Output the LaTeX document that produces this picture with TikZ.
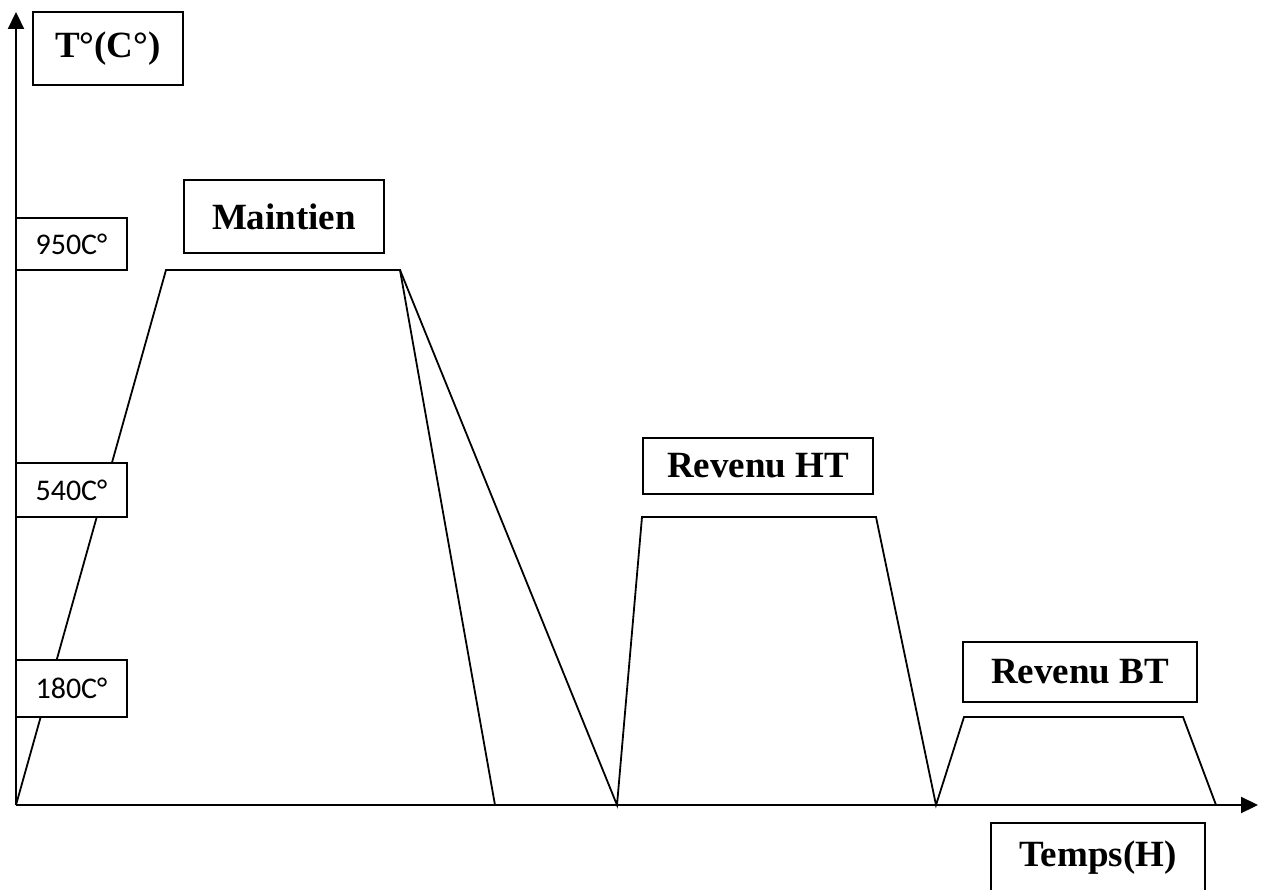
\documentclass[tikz,border=0pt]{standalone}
\usepackage{fontspec}
\setmainfont{Liberation Serif}
\newfontfamily\labfont{Carlito}
\usetikzlibrary{arrows.meta}
\begin{document}
\begin{tikzpicture}[x=1pt,y=-1pt,
  line width=2pt,
  bigbox/.style={draw, fill=white, line width=2pt, inner sep=0pt, font=\fontsize{37}{40}\selectfont\bfseries},
  tempbox/.style={draw, fill=white, line width=1.6pt, inner sep=0pt, minimum width=111pt, font=\labfont\fontsize{30}{32}\selectfont},
  curve/.style={line width=1.8pt, line join=miter},
  axis/.style={line width=2.2pt, -{Triangle[length=17pt,width=16pt]}}]
\useasboundingbox (0,0) rectangle (1263,890);
% axes
\coordinate (O) at (16,805);
\coordinate (ytop) at (16,12);
\coordinate (xend) at (1258,805);
\draw[axis] (O) -- (ytop);
\draw[axis] (O) -- (xend);
% curve points
\coordinate (a1) at (166,270);
\coordinate (a2) at (400,270);
\coordinate (a3) at (495,805);
\coordinate (b0) at (617,805);
\coordinate (b1) at (642,517);
\coordinate (b2) at (876,517);
\coordinate (b3) at (936,805);
\coordinate (c1) at (964,717);
\coordinate (c2) at (1183,717);
\coordinate (c3) at (1216,805);
\draw[curve] (O) -- (a1) -- (a2) -- (a3);
\draw[curve] (a2) -- (b0) -- (b1) -- (b2) -- (b3) -- (c1) -- (c2) -- (c3);
% label boxes
\node[bigbox, minimum width=150pt, minimum height=73pt] (tc) at (108,48.5) {\raisebox{-3pt}{T\textdegree(C\textdegree)}};
\node[tempbox, minimum height=52pt] (t950) at (71.5,244) {950C\textdegree};
\node[tempbox, minimum height=54pt] (t540) at (71.5,490) {540C\textdegree};
\node[tempbox, minimum height=57pt] (t180) at (71.5,688.5) {180C\textdegree};
\node[bigbox, minimum width=200pt, minimum height=73pt] (maint) at (284,216.5) {Maintien};
\node[bigbox, minimum width=230pt, minimum height=56pt] (rht) at (758,466) {Revenu HT};
\node[bigbox, minimum width=234pt, minimum height=60pt] (rbt) at (1080,672) {Revenu BT};
\node[bigbox, minimum width=214pt, minimum height=70pt, anchor=north] (temps) at (1098,822) {\raisebox{-12pt}{Temps(H)}};
\end{tikzpicture}
\end{document}
